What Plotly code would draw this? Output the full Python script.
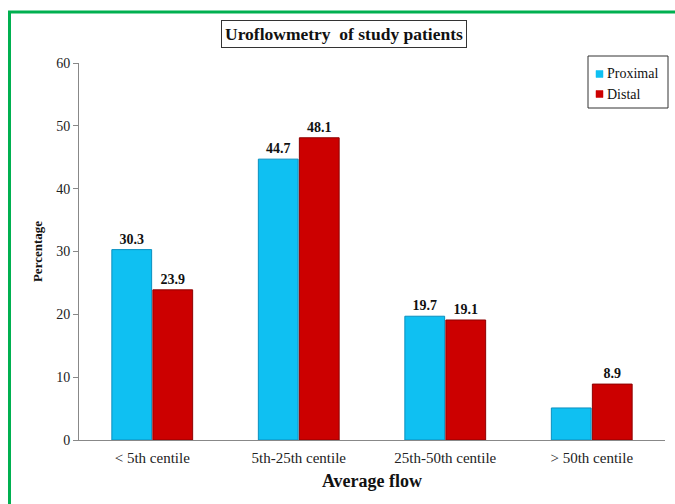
import plotly.graph_objects as go

categories = ["< 5th centile", "5th-25th centile", "25th-50th centile", "> 50th centile"]
proximal = [30.3, 44.7, 19.7, 5.1]
distal = [23.9, 48.1, 19.1, 8.9]
proximal_labels = ["30.3", "44.7", "19.7", ""]
distal_labels = ["23.9", "48.1", "19.1", "8.9"]
series_names = ["Proximal", "Distal"]
series_colors = ["#0FC0F2", "#CC0000"]
series_edges = ["#0A8FBF", "#8E0000"]

FONT = "Liberation Serif"
L, R, T, B = 79, 10, 63, 64
W, H = 675, 504
pw, ph = W - L - R, H - T - B

def px(x):
    return (x - L) / pw

def py(y):
    return (H - B - y) / ph

fig = go.Figure()
for name, vals, labels, col, edge in zip(series_names, [proximal, distal],
                                          [proximal_labels, distal_labels],
                                          series_colors, series_edges):
    fig.add_trace(go.Bar(
        x=categories, y=vals, name=name,
        marker=dict(color=col, line=dict(color=edge, width=1)),
        text=[f"<b>{t}</b>" if t else "" for t in labels],
        textposition="outside", cliponaxis=False,
        textfont=dict(family=FONT, size=14, color="#111111"),
    ))

shapes = [dict(
    type="path", xref="paper", yref="paper",
    path=f"M {px(9.5)} {py(520)} L {px(9.5)} {py(12)} L {px(690)} {py(12)}",
    line=dict(color="#00B050", width=3),
)]
# legend box
shapes.append(dict(type="rect", xref="paper", yref="paper",
                   x0=px(588), x1=px(668), y0=py(56), y1=py(108),
                   line=dict(color="#333333", width=1), fillcolor="white", layer="above"))
annotations = [dict(
    text="<b>Uroflowmetry  of study patients</b>", xref="paper", yref="paper",
    x=px(344), y=py(34), xanchor="center", yanchor="middle", showarrow=False,
    font=dict(family=FONT, size=17.5, color="#111111"),
    bordercolor="#333333", borderwidth=1, borderpad=3, bgcolor="white",
)]
for i, (name, col) in enumerate(zip(series_names, series_colors)):
    yc = 74 + i * 20
    shapes.append(dict(type="rect", xref="paper", yref="paper",
                       x0=px(596), x1=px(603), y0=py(yc + 3.5), y1=py(yc - 3.5),
                       line=dict(color=col, width=0.5), fillcolor=col, layer="above"))
    annotations.append(dict(text=name, xref="paper", yref="paper",
                            x=px(605), y=py(yc), xanchor="left", yanchor="middle",
                            showarrow=False,
                            font=dict(family=FONT, size=14, color="#111111")))

fig.update_layout(
    width=W, height=H,
    margin=dict(l=L, r=R, t=T, b=B, autoexpand=False),
    paper_bgcolor="white", plot_bgcolor="white",
    barmode="group", bargap=0.44, bargroupgap=0.03,
    font=dict(family=FONT, size=13, color="#222222"),
    showlegend=False,
    xaxis=dict(
        automargin=False,
        showline=True, linecolor="#888888", linewidth=1,
        ticks="", ticklabelstandoff=4,
        tickfont=dict(family=FONT, size=15, color="#222222"),
        title=dict(text="<b>Average flow</b>", font=dict(family=FONT, size=18, color="#111111"), standoff=9),
    ),
    yaxis=dict(
        automargin=False,
        range=[0, 60], dtick=10, showgrid=False, zeroline=False,
        showline=True, linecolor="#888888", linewidth=1,
        ticks="outside", ticklen=5, tickcolor="#888888",
        tickfont=dict(family=FONT, size=14, color="#222222"),
        title=dict(text="<b>Percentage</b>", font=dict(family=FONT, size=13, color="#111111"), standoff=10),
    ),
    annotations=annotations,
    shapes=shapes,
)

fig.write_html("out.html", config={"displayModeBar": False},
               post_script="document.body.style.margin='0';document.body.style.overflow='hidden';")
